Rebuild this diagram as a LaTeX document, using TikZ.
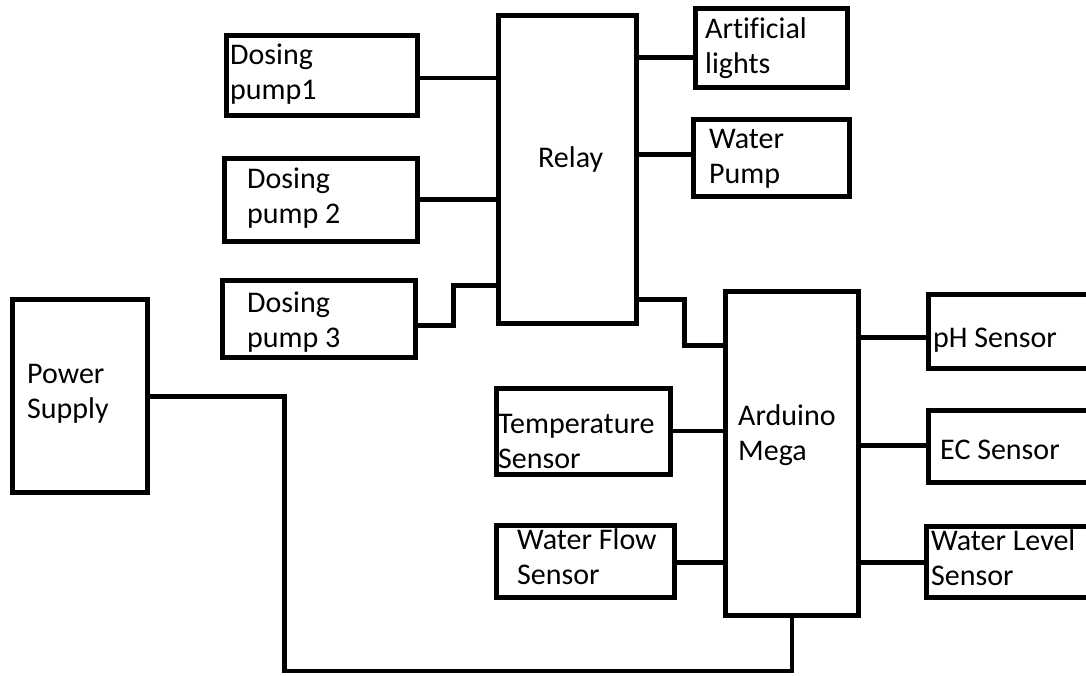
\documentclass[tikz,border=0pt]{standalone}
\usepackage{fontspec}
\setmainfont{Carlito}[Ligatures=CommonOff]
\begin{document}
\begin{tikzpicture}[
    x=1pt, y=-1pt,
    every node/.style={font=\fontsize{30}{35}\selectfont},
    blk/.style={draw, line width=5pt, inner sep=0pt},
    txt/.style={align=left, anchor=base west, inner sep=0pt},
    wire/.style={line width=4.5pt}
]
\useasboundingbox (0,0) rectangle (1086,675);
% relay side
\node[blk, minimum width=191pt, minimum height=80pt] (dp1) at (321.5,75) {};
\node[blk, minimum width=193pt, minimum height=83pt] (dp2) at (321,200) {};
\node[blk, minimum width=193pt, minimum height=77pt] (dp3) at (319,319) {};
\node[blk, minimum width=138pt, minimum height=308pt] (relay) at (567.5,169.5) {};
\node[blk, minimum width=152pt, minimum height=79pt] (lights) at (771.5,48) {};
\node[blk, minimum width=156pt, minimum height=77pt] (wpump) at (771.5,158) {};
% arduino side
\node[blk, minimum width=135pt, minimum height=193pt] (psu) at (80,396) {};
\node[blk, minimum width=133pt, minimum height=324pt] (mega) at (792,453.5) {};
\node[blk, minimum width=174pt, minimum height=86pt] (temp) at (583.5,431.5) {};
\node[blk, minimum width=178pt, minimum height=72pt] (flow) at (585.5,561.5) {};
\node[blk, minimum width=172pt, minimum height=74pt] (ph) at (1014,331.5) {};
\node[blk, minimum width=172pt, minimum height=72pt] (ec) at (1014,446.5) {};
\node[blk, minimum width=174pt, minimum height=71pt] (level) at (1013.5,562) {};

% labels (base = last line)
\node[txt] (dp1-lbl) at (230,99) {Dosing\\pump1};
\node[txt] (dp2-lbl) at (247,223) {Dosing\\pump 2};
\node[txt] (dp3-lbl) at (247,347) {Dosing\\pump 3};
\node[txt] (relay-lbl) at (538,167) {Relay};
\node[txt] (lights-lbl) at (705,73) {Artificial\\lights};
\node[txt] (wpump-lbl) at (709,183) {Water\\Pump};
\node[txt] (psu-lbl) at (27,418) {Power\\Supply};
\node[txt] (mega-lbl) at (738,460) {Arduino\\Mega};
\node[txt] (temp-lbl) at (498,468) {Temperature\\Sensor};
\node[txt] (flow-lbl) at (517,584) {Water Flow\\Sensor};
\node[txt] (ph-lbl) at (933,347) {pH Sensor};
\node[txt] (ec-lbl) at (940,459) {EC Sensor};
\node[txt] (level-lbl) at (931,585) {Water Level\\Sensor};

% wires
\draw[wire] (dp1.east |- 0,78) -- (relay.west |- 0,78);
\draw[wire] (dp2.east |- 0,199.5) -- (relay.west |- 0,199.5);
\draw[wire] (dp3.east |- 0,325.5) -| (453.5,285.5) -- (relay.west |- 0,285.5);
\draw[wire] (relay.east |- 0,57.5) -- (lights.west |- 0,57.5);
\draw[wire] (relay.east |- 0,154.5) -- (wpump.west |- 0,154.5);
\draw[wire] (relay.east |- 0,299.5) -| (684.5,345.5) -- (mega.west |- 0,345.5);
\draw[wire] (temp.east |- 0,431) -- (mega.west |- 0,431);
\draw[wire] (flow.east |- 0,562.5) -- (mega.west |- 0,562.5);
\draw[wire] (mega.east |- 0,337.5) -- (ph.west |- 0,337.5);
\draw[wire] (mega.east |- 0,445.5) -- (ec.west |- 0,445.5);
\draw[wire] (mega.east |- 0,562.5) -- (level.west |- 0,562.5);
\draw[wire] (psu.east |- 0,396.5) -| (284.5,671) -| (mega.south);
\end{tikzpicture}
\end{document}
